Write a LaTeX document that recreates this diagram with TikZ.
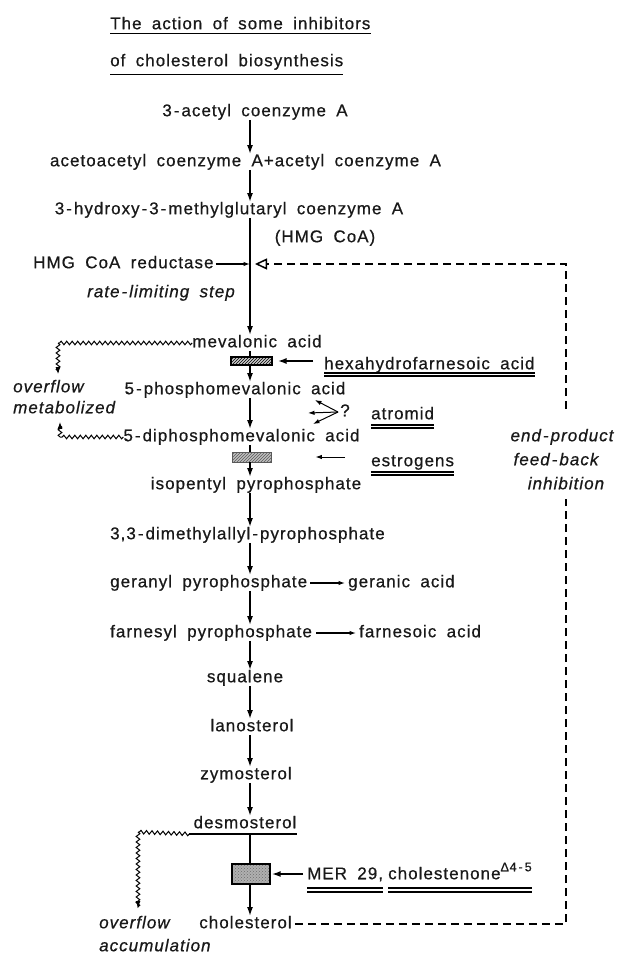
\documentclass[tikz,border=0pt]{standalone}
\usepackage{fontspec}
\setmainfont{Liberation Sans}[LetterSpace=6, WordSpace=1.8, FakeBold=0.6]
\usetikzlibrary{arrows.meta,patterns,decorations.pathmorphing}
\newcommand{\hy}{\kern2pt-\kern2pt}
\begin{document}
\begin{tikzpicture}[x=1pt,y=-1pt,
 txt/.style={inner sep=0pt, text height=12pt, text depth=3.5pt, font=\fontsize{17}{20}\selectfont, text=black!90},
 itx/.style={txt, font=\fontsize{17}{20}\selectfont\itshape},
 arr/.style={line width=1.6pt, -{Latex[length=9pt,width=6pt]}},
 sarr/.style={line width=1.2pt, -{Latex[length=6.5pt,width=4.5pt]}},
 plain/.style={line width=1.6pt},
 wavy/.style={line width=1pt, decorate, decoration={snake, amplitude=1.8pt, segment length=5.5pt}},
 wavyarr/.style={line width=1pt, decorate, decoration={snake, amplitude=1.8pt, segment length=5.5pt, post length=7pt}, -{Latex[length=7pt,width=5pt]}},
 fb/.style={line width=1.5pt, dash pattern=on 8pt off 5pt},
 ul/.style={line width=1.1pt},
 boxa/.style={draw, line width=1.1pt, minimum width=41pt, minimum height=8pt, inner sep=0pt, preaction={fill=gray!40}, pattern=north east lines},
 boxb/.style={draw=gray!70!black, line width=0.9pt, minimum width=39pt, minimum height=10pt, inner sep=0pt, preaction={fill=gray!50}, pattern=north east lines, pattern color=gray!70!black},
 boxc/.style={draw, line width=1.4pt, minimum width=38pt, minimum height=20pt, inner sep=0pt, preaction={fill=gray!62}, pattern=crosshatch dots, pattern color=gray!85!black},
]
\useasboundingbox[fill=white] (0,0) rectangle (627,957);
\coordinate (ax) at (250,0);
\coordinate (fbx) at (566,0);
\coordinate (fbtip) at (255,264);

% title
\node[txt, anchor=west] (t1) at (110,25) {The action of some inhibitors};
\node[txt, anchor=west] (t2) at (110,62) {of cholesterol biosynthesis};
\draw[ul] ([yshift=-1pt]t1.south west) -- ([yshift=-1pt]t1.south east);
\draw[ul] ([yshift=-5pt]t2.south west) -- ([yshift=-5pt]t2.south east);

% pathway
\node[txt] (acetyl) at (255,112) {3\hy acetyl coenzyme A};
\node[txt] (acetoac) at (245.5,162) {acetoacetyl coenzyme A\kern1pt+\kern1pt acetyl coenzyme A};
\node[txt] (hydroxy) at (229,210) {3\hy hydroxy\hy 3\hy methylglutaryl coenzyme A};
\node[txt] (hmgcoa) at (325,238) {(HMG CoA)};
\node[txt, anchor=west] (red) at (33,264) {HMG CoA reductase};
\node[itx] (rate) at (161,293) {rate\hy limiting step};
\node[txt] (mev) at (257,343) {mevalonic acid};
\node[boxa] (box1) at (251.5,361) {};
\node[txt, anchor=west] (hexa) at (324,365) {hexahydrofarnesoic acid};
\node[itx, anchor=west] (ov1) at (13,388) {overflow};
\node[itx, anchor=west] (met) at (13,409) {metabolized};
\node[txt] (phos) at (235,390) {5\hy phosphomevalonic acid};
\node[txt] (q) at (345,412) {?};
\node[txt, anchor=west] (atro) at (371,415) {atromid};
\node[txt] (diph) at (241.5,437) {5\hy diphosphomevalonic acid};
\node[boxb] (box2) at (251.5,457) {};
\node[txt, anchor=west] (estro) at (371,462) {estrogens};
\node[itx] (endp) at (562,437) {end\hy product};
\node[itx] (feed) at (556,461) {feed\hy back};
\node[itx] (inhib) at (566,485) {inhibition};
\node[txt] (iso) at (256,485) {isopentyl pyrophosphate};
\node[txt, anchor=west] (dim) at (110,535) {3,3\hy dimethylallyl\hy pyrophosphate};
\node[txt, anchor=west] (ger) at (110,583) {geranyl pyrophosphate};
\node[txt, anchor=west] (gera) at (348,583) {geranic acid};
\node[txt, anchor=west] (far) at (110,633) {farnesyl pyrophosphate};
\node[txt, anchor=west] (fara) at (359,633) {farnesoic acid};
\node[txt] (squ) at (245,678) {squalene};
\node[txt] (lan) at (252,727) {lanosterol};
\node[txt] (zym) at (246,775) {zymosterol};
\node[txt] (des) at (245,824) {desmosterol};
\node[boxc] (box3) at (251,874) {};
\node[txt, anchor=west] (mer) at (307,875) {MER 29,};
\node[txt, anchor=west] (chn) at (388,875) {cholestenone\raisebox{8pt}{\fontsize{12.5}{12.5}\selectfont Δ4\hy 5}};
\node[txt] (chol) at (245.5,924) {cholesterol};
\node[itx, anchor=west] (ov2) at (99,924) {overflow};
\node[itx, anchor=west] (acc) at (99,947) {accumulation};

% main arrows
\draw[arr] (acetyl.south -| ax) -- (acetoac.north -| ax);
\draw[arr] (acetoac.south -| ax) -- (hydroxy.north -| ax);
\draw[arr] (hydroxy.south -| ax) -- (mev.north -| ax);
\draw[plain] (mev.south -| ax) -- (box1.north -| ax);
\draw[arr] (box1.south -| ax) -- (phos.north -| ax);
\draw[arr] (phos.south -| ax) -- (diph.north -| ax);
\draw[plain] (diph.south -| ax) -- (box2.north -| ax);
\draw[arr] (box2.south -| ax) -- (iso.north -| ax);
\draw[arr] (iso.south -| ax) -- (dim.north -| ax);
\draw[arr] (dim.south -| ax) -- (ger.north -| ax);
\draw[arr] (ger.south -| ax) -- (far.north -| ax);
\draw[arr] (far.south -| ax) -- (squ.north -| ax);
\draw[arr] (squ.south -| ax) -- (lan.north -| ax);
\draw[arr] (lan.south -| ax) -- (zym.north -| ax);
\draw[arr] (zym.south -| ax) -- (des.north -| ax);
\draw[plain] ([yshift=-2pt]des.south -| ax) -- (box3.north -| ax);
\draw[arr] (box3.south -| ax) -- (chol.north -| ax);

% side arrows
\draw[sarr, shorten <=2pt] (red.east) -- (red.east -| ax);
\draw[arr, line width=1.8pt, shorten <=11pt, shorten >=5pt] (box1.east -| hexa.west) -- (box1.east);
\draw[sarr, line width=1pt, shorten <=26pt, shorten >=44pt] (box2.east -| estro.west) -- (box2.east);
\draw[arr, shorten <=4pt, shorten >=1pt] (box3.east -| mer.west) -- (box3.east);
\draw[sarr, shorten <=3pt, shorten >=3pt] (ger.east) -- (gera.west);
\draw[sarr, shorten <=4pt, shorten >=3pt] (far.east) -- (fara.west);

% atromid arrows
\coordinate (qs) at (338,412);
\coordinate (qa) at (315,400);
\coordinate (qb) at (308,413);
\coordinate (qc) at (313,424);
\draw[sarr, line width=1pt] (qs) -- (qa);
\draw[sarr, line width=1pt] (qs) -- (qb);
\draw[sarr, line width=1pt] (qs) -- (qc);

% underlines
\draw[ul] ([yshift=0pt]hexa.south west) -- ([yshift=0pt]hexa.south east);
\draw[ul] ([yshift=-3pt]hexa.south west) -- ([yshift=-3pt]hexa.south east);
\draw[ul] ([yshift=-2pt]atro.south west) -- ([yshift=-2pt]atro.south east);
\draw[ul] ([yshift=-5pt]atro.south west) -- ([yshift=-5pt]atro.south east);
\draw[ul] ([yshift=-2pt]estro.south west) -- ([yshift=-2pt]estro.south east);
\draw[ul] ([yshift=-5pt]estro.south west) -- ([yshift=-5pt]estro.south east);
\draw[ul] ([yshift=-5pt]mer.south west) -- ([yshift=-5pt]mer.south east);
\draw[ul] ([yshift=-9pt]mer.south west) -- ([yshift=-9pt]mer.south east);
\draw[ul] ([yshift=-5pt]chn.south west) -- ([yshift=-5pt]chn.south east);
\draw[ul] ([yshift=-9pt]chn.south west) -- ([yshift=-9pt]chn.south east);
\draw[ul] ([xshift=-4pt,yshift=-2pt]des.south west) -- ([yshift=-2pt]des.south east);

% overflow wavy lines
\coordinate (c1) at (58,343);
\coordinate (c2) at (60,437);
\coordinate (c3) at (138,832);
\draw[wavy] (mev.west) -- (c1);
\draw[wavyarr, shorten >=6pt] (c1) -- (ov1.north -| c1);
\draw[wavy] (diph.west) -- (c2);
\draw[wavyarr, shorten >=5pt] (c2) -- (met.south -| c2);
\draw[wavy] ([xshift=-4pt,yshift=-2pt]des.south west) -- (c3);
\draw[wavyarr, shorten >=8pt] (c3) -- (ov2.north -| c3);

% feedback
\draw[fb, shorten <=3pt, shorten >=6pt] (chol.east) -- (fbx |- chol.east) -- (fbx |- inhib.south);
\draw[fb, shorten <=20pt, -{Triangle[open, length=12pt, width=11pt]}] (fbx |- endp.north) -- (fbx |- fbtip) -- (fbtip);
\end{tikzpicture}
\end{document}
